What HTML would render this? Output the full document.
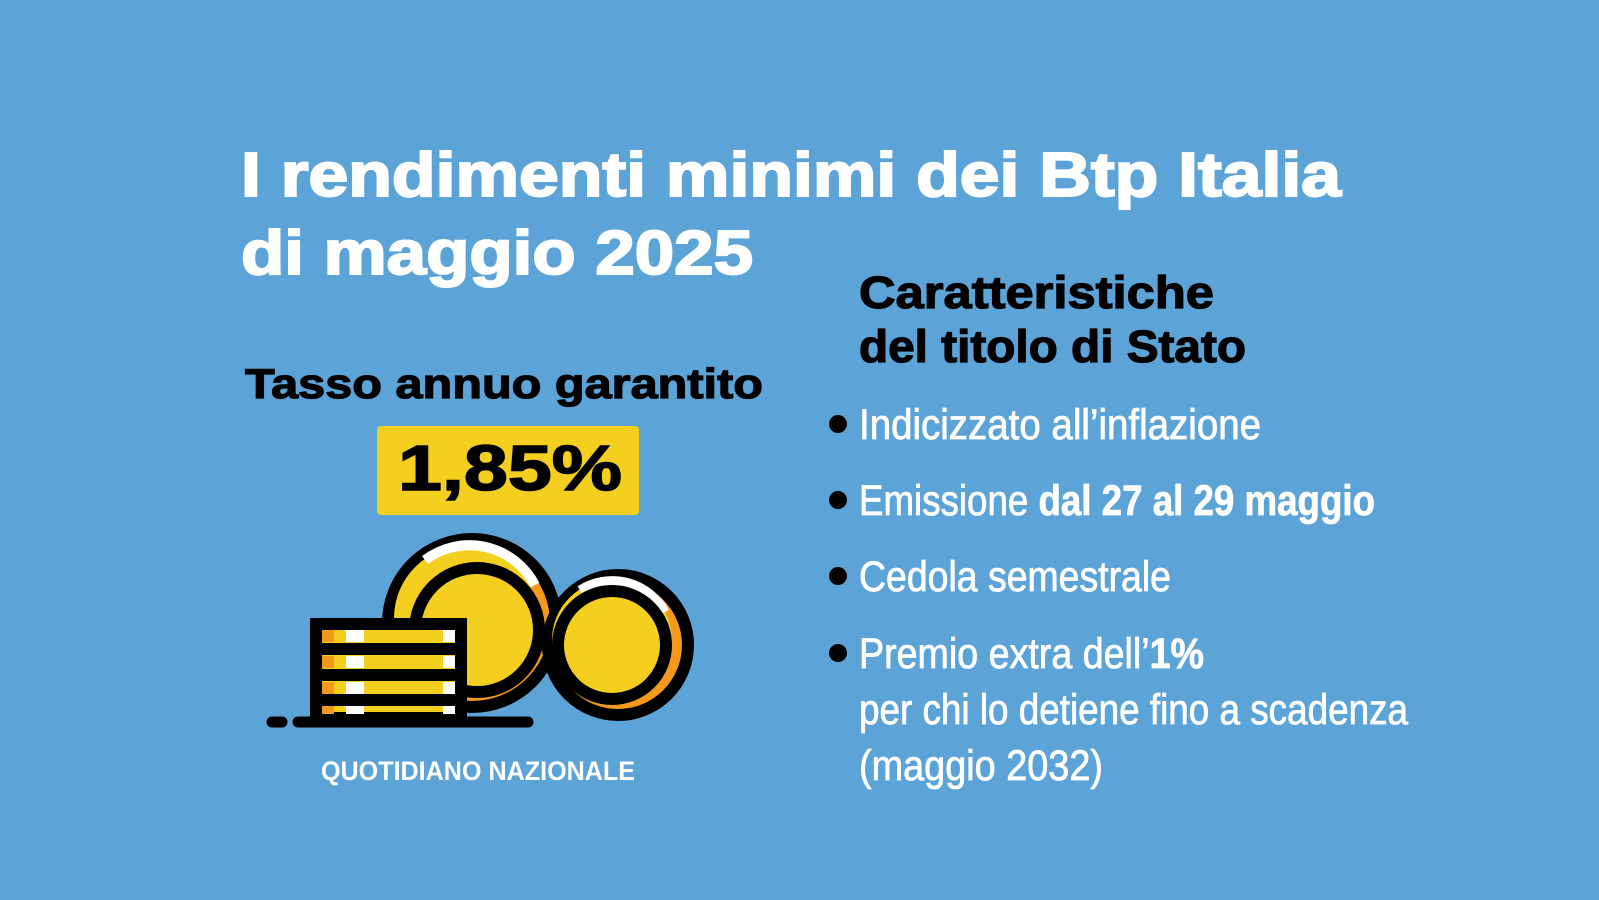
<!DOCTYPE html>
<html><head><meta charset="utf-8"><style>
html,body{margin:0;padding:0;background:#5ca3d7;}
svg{display:block}
</style></head><body>
<svg width="1599" height="900" viewBox="0 0 1599 900" xmlns="http://www.w3.org/2000/svg">
<rect width="1599" height="900" fill="#5ca3d7"/>
<g font-family="Liberation Sans, sans-serif" font-weight="bold">
<text x="241" y="196" font-size="62" fill="#fff" stroke="#fff" stroke-width="2" textLength="1100" lengthAdjust="spacingAndGlyphs">I rendimenti minimi dei Btp Italia</text>
<text x="241" y="274" font-size="62" fill="#fff" stroke="#fff" stroke-width="2" textLength="512" lengthAdjust="spacingAndGlyphs">di maggio 2025</text>
<text x="245" y="398" font-size="42" fill="#000" stroke="#000" stroke-width="1.2" textLength="518" lengthAdjust="spacingAndGlyphs">Tasso annuo garantito</text>
<rect x="377" y="426" width="262" height="89" rx="4" fill="#f4cf1f"/>
<text x="398" y="490" font-size="64" fill="#000" stroke="#000" stroke-width="1.5" textLength="224" lengthAdjust="spacingAndGlyphs">1,85%</text>
<text x="859" y="308" font-size="45" fill="#000" stroke="#000" stroke-width="1.2" textLength="355" lengthAdjust="spacingAndGlyphs">Caratteristiche</text>
<text x="859" y="362" font-size="45" fill="#000" stroke="#000" stroke-width="1.2" textLength="387" lengthAdjust="spacingAndGlyphs">del titolo di Stato</text>
<text x="321" y="780" font-size="27" fill="#fff" textLength="314" lengthAdjust="spacingAndGlyphs">QUOTIDIANO NAZIONALE</text>
</g>
<g font-family="Liberation Sans Narrow, Liberation Sans, sans-serif" font-size="43" fill="#fff" stroke="#fff" stroke-width="0.8">
<text x="859" y="439" textLength="402" lengthAdjust="spacingAndGlyphs">Indicizzato all’inflazione</text>
<text x="859" y="515" textLength="516" lengthAdjust="spacingAndGlyphs">Emissione <tspan font-weight="bold">dal 27 al 29 maggio</tspan></text>
<text x="859" y="591" textLength="312" lengthAdjust="spacingAndGlyphs">Cedola semestrale</text>
<text x="859" y="668" textLength="345" lengthAdjust="spacingAndGlyphs">Premio extra dell’<tspan font-weight="bold">1%</tspan></text>
<text x="859" y="724" textLength="549" lengthAdjust="spacingAndGlyphs">per chi lo detiene fino a scadenza</text>
<text x="859" y="780" textLength="244" lengthAdjust="spacingAndGlyphs">(maggio 2032)</text>
</g>
<g fill="#000">
<circle cx="838" cy="424" r="9"/>
<circle cx="838" cy="500" r="9"/>
<circle cx="838" cy="576" r="9"/>
<circle cx="838" cy="653" r="9"/>
</g>
<!-- coins -->
<g stroke="#000" stroke-linecap="round">
<circle cx="472" cy="623" r="84" fill="#f39a1d" stroke-width="12"/>
<circle cx="466" cy="618" r="72" fill="#f4cf1f" stroke="none"/>
<path d="M425 560 A74 74 0 0 1 535 585" stroke="#fff" stroke-width="10" fill="none" stroke-linecap="butt"/>
<circle cx="477" cy="630" r="62" fill="#f4cf1f" stroke-width="12"/>
<circle cx="618" cy="645" r="70" fill="#f39a1d" stroke-width="12"/>
<circle cx="612" cy="640" r="60" fill="#f4cf1f" stroke="none"/>
<path d="M580 590 A60 60 0 0 1 665 612" stroke="#fff" stroke-width="9" fill="none" stroke-linecap="butt"/>
<circle cx="612" cy="645" r="54" fill="#f4cf1f" stroke-width="12"/>
</g>
<rect x="316" y="624" width="145" height="94" fill="#f4cf1f" stroke="#000" stroke-width="12"/>
<g fill="#f39a1d"><rect x="322" y="630" width="12" height="12"/><rect x="322" y="656" width="12" height="12"/><rect x="322" y="682" width="12" height="12"/><rect x="322" y="706" width="12" height="8"/></g>
<g fill="#fff"><rect x="346" y="630" width="18" height="12"/><rect x="346" y="656" width="18" height="12"/><rect x="346" y="682" width="18" height="12"/><rect x="346" y="706" width="18" height="8"/>
<rect x="443" y="630" width="12" height="12"/><rect x="443" y="656" width="12" height="12"/><rect x="443" y="682" width="12" height="12"/><rect x="443" y="706" width="12" height="8"/></g>
<g fill="#000"><rect x="316" y="643" width="145" height="12"/><rect x="316" y="669" width="145" height="12"/><rect x="316" y="694" width="145" height="12"/></g>
<g stroke="#000" stroke-width="11" stroke-linecap="round">
<line x1="298" y1="722" x2="528" y2="722"/>
<line x1="272" y1="722" x2="282" y2="722"/>
</g>
</svg>
</body></html>
